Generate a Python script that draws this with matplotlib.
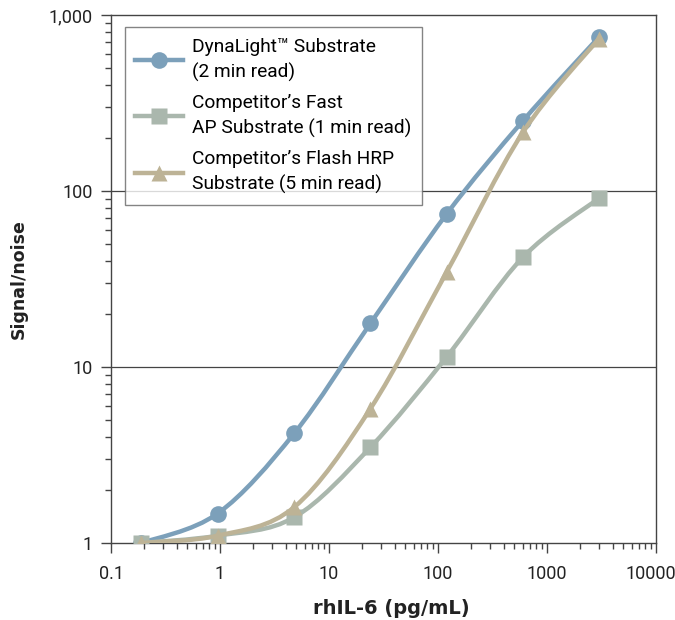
import numpy as np
import matplotlib.pyplot as plt
from matplotlib.path import Path
from matplotlib.patches import PathPatch
from matplotlib.transforms import ScaledTranslation
from matplotlib.ticker import FixedLocator, LogLocator, NullFormatter

# rhIL-6 concentrations (pg/mL) and signal/noise for each substrate
conc = [0.19, 0.95, 4.8, 24, 120, 600, 3000]
dynalight = [1.0, 1.47, 4.2, 17.7, 74, 250, 750]
fast_ap = [1.0, 1.1, 1.4, 3.5, 11.4, 42, 91]
flash_hrp = [1.0, 1.1, 1.6, 5.8, 34.6, 215, 735]

labels = ['DynaLight\u2122 Substrate\n(2 min read)',
          'Competitor\u2019s Fast\nAP Substrate (1 min read)',
          'Competitor\u2019s Flash HRP\nSubstrate (5 min read)']
colors = ['#7ca0ba', '#aab7ad', '#bdb396']
markers = ['o', 's', '^']

xticks = [0.1, 1, 10, 100, 1000, 10000]
xticklabels = ['0.1', '1', '10', '100', '1000', '10000']
yticks = [1, 10, 100, 1000]
yticklabels = ['1', '10', '100', '1,000']


def smooth_path(x, y):
    # Catmull-Rom -> cubic bezier in log space, drawn by matplotlib as curves
    lx, ly = np.log10(x), np.log10(y)
    pts = np.column_stack([lx, ly])
    ext = np.vstack([pts[0], pts, pts[-1]])
    verts = [pts[0]]
    codes = [Path.MOVETO]
    for i in range(len(pts) - 1):
        p0, p1, p2, p3 = ext[i], ext[i + 1], ext[i + 2], ext[i + 3]
        verts += [p1 + (p2 - p0) / 6, p2 - (p3 - p1) / 6, p2]
        codes += [Path.CURVE4] * 3
    return Path(10 ** np.array(verts), codes)


plt.rcParams['font.family'] = ['Roboto', 'DejaVu Sans']
fig = plt.figure(figsize=(6.75, 6.2), dpi=100)
ax = fig.add_axes([111 / 675, 77 / 620, 545 / 675, 528 / 620])
ax.set_xscale('log')
ax.set_yscale('log')

for y in [10, 100]:
    ax.axhline(y, color='#444444', lw=0.9, zorder=1)

series = [dynalight, fast_ap, flash_hrp]
order = [1, 2, 0]
for i in order:
    patch = PathPatch(smooth_path(conc, series[i]), facecolor='none',
                      edgecolor=colors[i], lw=3.2, capstyle='round', zorder=2 + i)
    ax.add_patch(patch)
    ax.plot(conc, series[i], linestyle='none', marker=markers[i], ms=12,
            color=colors[i], mec='none', zorder=2.5 + i)

handles = [plt.Line2D([], [], color=colors[i], lw=3.2, marker=markers[i],
                      ms=12, mec='none') for i in range(3)]
leg = ax.legend(handles, labels, loc='upper left', bbox_to_anchor=(0.025, 0.977),
                prop={'family': ['Roboto', 'DejaVu Sans'], 'size': 13.8},
                frameon=True, fancybox=False, edgecolor='#666666',
                borderpad=0.55, labelspacing=0.65, handlelength=2.5,
                handletextpad=0.45, borderaxespad=0)
leg.get_frame().set_linewidth(1.0)
for t in leg.get_texts():
    t.set_linespacing(1.45)

ax.set_xlim(0.1, 10000)
ax.set_ylim(1, 1000)
ax.xaxis.set_major_locator(FixedLocator(xticks))
ax.set_xticklabels(xticklabels)
ax.yaxis.set_major_locator(FixedLocator(yticks))
ax.set_yticklabels(yticklabels)
ax.xaxis.set_minor_locator(LogLocator(base=10, subs=np.arange(2, 10)))
ax.yaxis.set_minor_locator(LogLocator(base=10, subs=np.arange(2, 10)))
ax.xaxis.set_minor_formatter(NullFormatter())
ax.yaxis.set_minor_formatter(NullFormatter())

for s in ax.spines.values():
    s.set_color('#444444')
    s.set_linewidth(1.0)
ax.tick_params(which='major', length=7, width=1, color='#444444',
               labelsize=13, labelcolor='#222222', pad=6)
ax.tick_params(which='minor', length=4, width=1, color='#444444')
ax.tick_params(axis='x', which='major', pad=9)

# keep the last x label inside the figure
last = ax.get_xticklabels()[-1]
last.set_transform(last.get_transform() + ScaledTranslation(-5 / 100, 0, fig.dpi_scale_trans))

ax.set_xlabel('rhIL-6 (pg/mL)', fontsize=14, fontweight='bold', labelpad=11,
              family='DejaVu Sans', color='#222222')
ax.xaxis.label.set_x(0.515)
ax.set_ylabel('Signal/noise', fontsize=12.5, fontweight='bold', labelpad=15,
              family='DejaVu Sans', color='#222222')

fig.savefig('out.png', dpi=100)
